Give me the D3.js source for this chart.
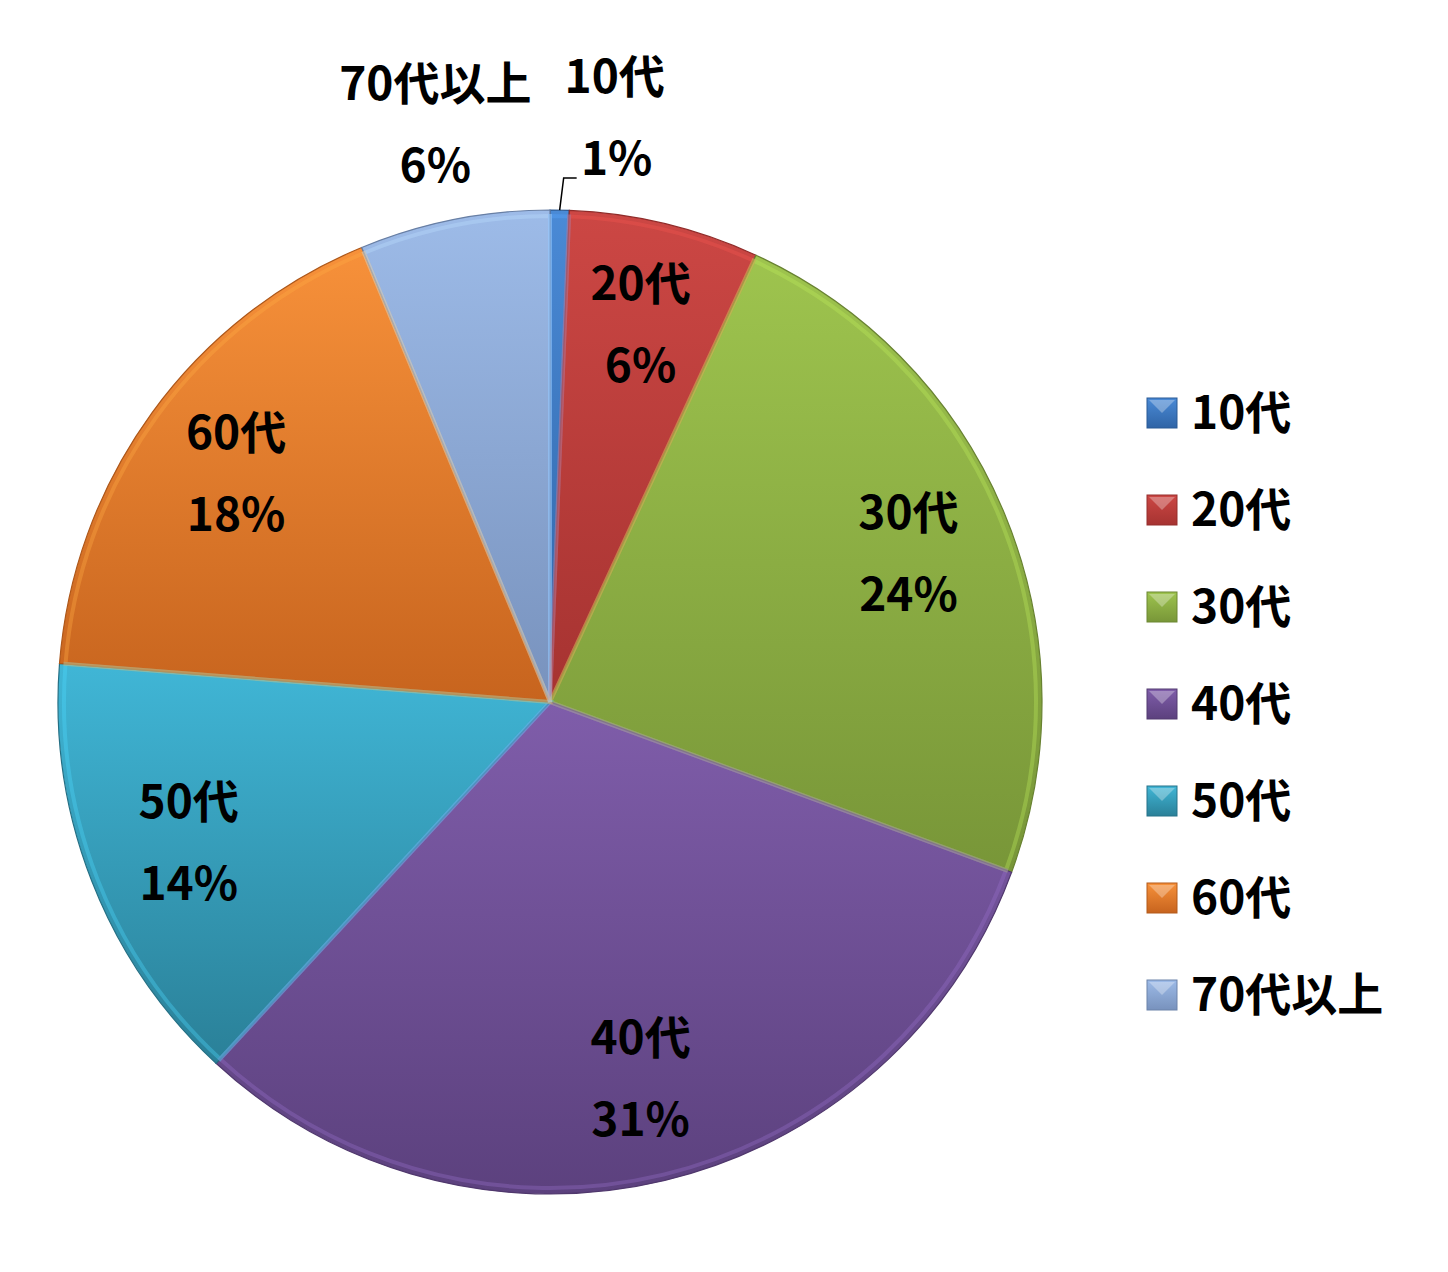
<!DOCTYPE html>
<html><head><meta charset="utf-8">
<script src="https://cdn.jsdelivr.net/npm/d3@7"></script>
<style>
html,body{margin:0;padding:0;background:#fff;}
text{font-family:"Noto Sans CJK JP","Noto Sans",sans-serif;font-weight:700;fill:#000;}
</style></head>
<body>
<svg id="chart" width="1448" height="1272"></svg>
<script>
const categories = ["10代","20代","30代","40代","50代","60代","70代以上"];
const values = [1, 10, 38, 50, 23, 28, 10];
const percentLabels = ["1%","6%","24%","31%","14%","18%","6%"];
const topColors = ["#4a8ad6","#cc4744","#9ec44e","#7f5daa","#40b6d6","#f7913a","#9dbbe8"];
const bottomColors = ["#2f64a6","#a63331","#789638","#5c417e","#2a8098","#c7641e","#7892bd"];

const svg = d3.select("#chart");
const cx = 550, cy = 702, R = 492;
const defs = svg.append("defs");
categories.forEach((c,i)=>{
  const g = defs.append("linearGradient").attr("id","g"+i).attr("x1",0).attr("y1",0).attr("x2",0).attr("y2",1);
  g.append("stop").attr("offset","0%").attr("stop-color",topColors[i]);
  g.append("stop").attr("offset","100%").attr("stop-color",bottomColors[i]);
});

const pie = d3.pie().sort(null).value(d=>d);
const arcs = pie(values);
const arc = d3.arc().innerRadius(0).outerRadius(R);
const bevel = d3.arc().innerRadius(0).outerRadius(R-6);
const labelArc = d3.arc().innerRadius(388).outerRadius(388);
const outArc = d3.arc().innerRadius(588).outerRadius(588);

const g = svg.append("g").attr("transform",`translate(${cx},${cy})`);
g.selectAll("path.slice").data(arcs).enter().append("path")
  .attr("class","slice").attr("d",arc)
  .attr("fill",(d,i)=>`url(#g${i})`)
  .attr("stroke",(d,i)=>d3.color(bottomColors[i]).darker(0.4))
  .attr("stroke-width",1.2);
g.selectAll("path.bev").data(arcs).enter().append("path")
  .attr("class","bev").attr("d",bevel)
  .attr("fill","none")
  .attr("stroke",(d,i)=>d3.color(topColors[i]).brighter(0.5))
  .attr("stroke-opacity",0.35)
  .attr("stroke-width",4);

const fs = 46, gap = 41;
arcs.forEach((d,i)=>{
  let x,y;
  if(i===0){
    const a = (d.startAngle+d.endAngle)/2;
    const px = Math.sin(a)*R, py = -Math.cos(a)*R;
    x = px + 55; y = -584;
    g.append("path").attr("d",`M${px},${py} L${px+4},${-524} L${px+17},${-524}`)
      .attr("fill","none").attr("stroke","#000").attr("stroke-width",1.5);
  } else if(i===categories.length-1){
    [x,y] = outArc.centroid(d);
  } else {
    [x,y] = labelArc.centroid(d);
  }
  const t = g.append("text").attr("text-anchor","middle").attr("font-size",fs);
  t.append("tspan").attr("x",x).attr("y",y-gap+16).text(categories[i]);
  t.append("tspan").attr("x",x+(i===0?2:0)).attr("y",y+gap+16).text(percentLabels[i]);
});

// legend
const lg = svg.append("g").attr("transform","translate(1147,413)");
const ly = d3.scalePoint().domain(categories).range([0, 582]);
categories.forEach((c,i)=>{
  const row = lg.append("g").attr("transform",`translate(0,${ly(c)})`);
  row.append("rect").attr("x",0).attr("y",-15).attr("width",30).attr("height",30)
    .attr("fill",`url(#g${i})`).attr("stroke",d3.color(bottomColors[i]).darker(0.3)).attr("stroke-width",1);
  row.append("path").attr("d","M2,-13 L15,0 L28,-13 Z").attr("fill","#fff").attr("fill-opacity",0.3);
  row.append("text").attr("x",44).attr("y",16).attr("font-size",fs).text(c);
});
</script>
</body></html>
